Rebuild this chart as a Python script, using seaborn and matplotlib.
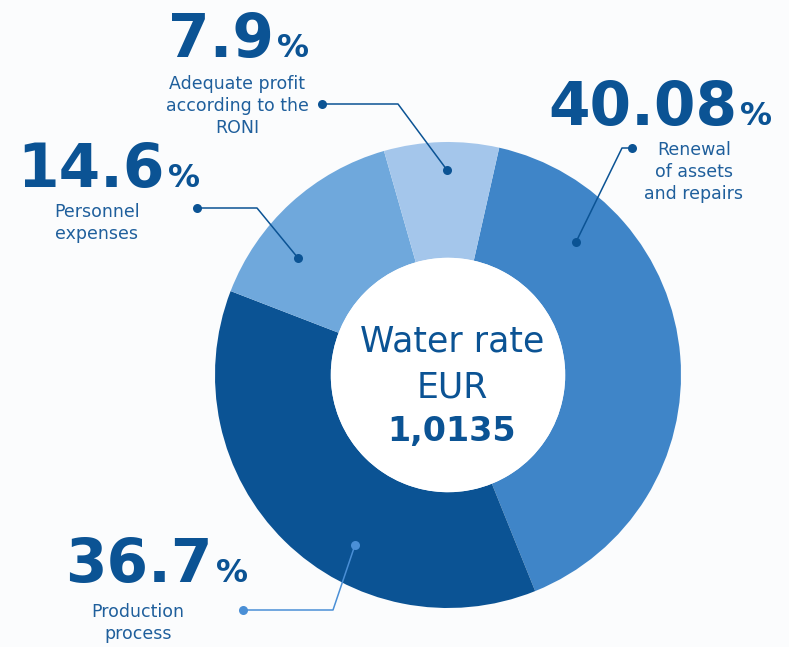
import matplotlib
matplotlib.use("Agg")
import matplotlib.pyplot as plt
from matplotlib.patches import Circle
import seaborn as sns

# Cost breakdown of the water rate (percent of the tariff)
categories = ["Renewal of assets and repairs", "Production process",
              "Personnel expenses", "Adequate profit according to the RONI"]
shares = [40.08, 36.7, 14.6, 7.9]
share_labels = ["40.08", "36.7", "14.6", "7.9"]
caption_lines = [["Renewal", "of assets", "and repairs"],
                 ["Production", "process"],
                 ["Personnel", "expenses"],
                 ["Adequate profit", "according to the", "RONI"]]
rate_title = ["Water rate", "EUR"]
rate_value = "1,0135"

sns.set_theme(style="white")
plt.rcParams["font.family"] = ["DejaVu Sans"]

palette = sns.color_palette(["#3f85c8", "#0b5394", "#6fa8dc", "#a4c6eb"])
ink = "#0b5394"
bg = "#fbfcfd"

W, H = 789, 647
fig = plt.figure(figsize=(W / 100, H / 100), dpi=100, facecolor=bg)
ax = fig.add_axes([0, 0, 1, 1])
ax.set_facecolor(bg)

# donut in pixel space (y grows downward, so counterclock=True runs clockwise on screen)
cx, cy, R = 448, 375, 233
ax.pie(shares, colors=palette, center=(cx, cy), radius=R,
       startangle=-77.3, counterclock=True,
       wedgeprops=dict(width=R * 0.497, edgecolor="none"))
ax.add_patch(Circle((cx, cy), R * 0.503, facecolor="white", edgecolor="none",
                    zorder=2))
ax.set_xlim(0, W)
ax.set_ylim(H, 0)
ax.set_aspect("equal")
ax.axis("off")

# big percentage headline: number + smaller % sign sharing a baseline
heads = [(737, 125), (213, 582), (165, 187), (274, 57)]
for lab, (x, y) in zip(share_labels, heads):
    ax.text(x, y, lab, ha="right", va="baseline", fontsize=43,
            fontweight="bold", color=ink)
    ax.text(x + 3, y, "%", ha="left", va="baseline", fontsize=23,
            fontweight="bold", color=ink)

# captions under each headline
caps = [(694, 155), (138, 617), (97, 217), (237, 89)]
pitch = 21.8
for lines, (x, y) in zip(caption_lines, caps):
    for i, line in enumerate(lines):
        ax.text(x, y + i * pitch, line, ha="center", va="baseline",
                fontsize=12.5, color="#1f5f9c")

# elbow leader lines: dot at caption -> elbow -> dot on wedge
leaders = [
    ([632, 622, 576], [148, 148, 242], ink),
    ([243, 333, 355], [610, 610, 545], "#4a8fd6"),
    ([197, 257, 298], [208, 208, 258], ink),
    ([322, 398, 447], [104, 104, 170], ink),
]
for xs, ys, col in leaders:
    ax.plot(xs, ys, color=col, lw=1.1, solid_capstyle="round", zorder=4)
    ax.plot([xs[0], xs[-1]], [ys[0], ys[-1]], "o", ms=6.5, color=col,
            mec="none", zorder=5)

# centre label
ax.text(452, 352, rate_title[0], ha="center", va="baseline", fontsize=25,
        color=ink, zorder=6)
ax.text(452, 398, rate_title[1], ha="center", va="baseline", fontsize=25,
        color=ink, zorder=6)
ax.text(452, 441, rate_value, ha="center", va="baseline", fontsize=24,
        fontweight="bold", color=ink, zorder=6)

fig.savefig("out.png", dpi=100, facecolor=bg)
